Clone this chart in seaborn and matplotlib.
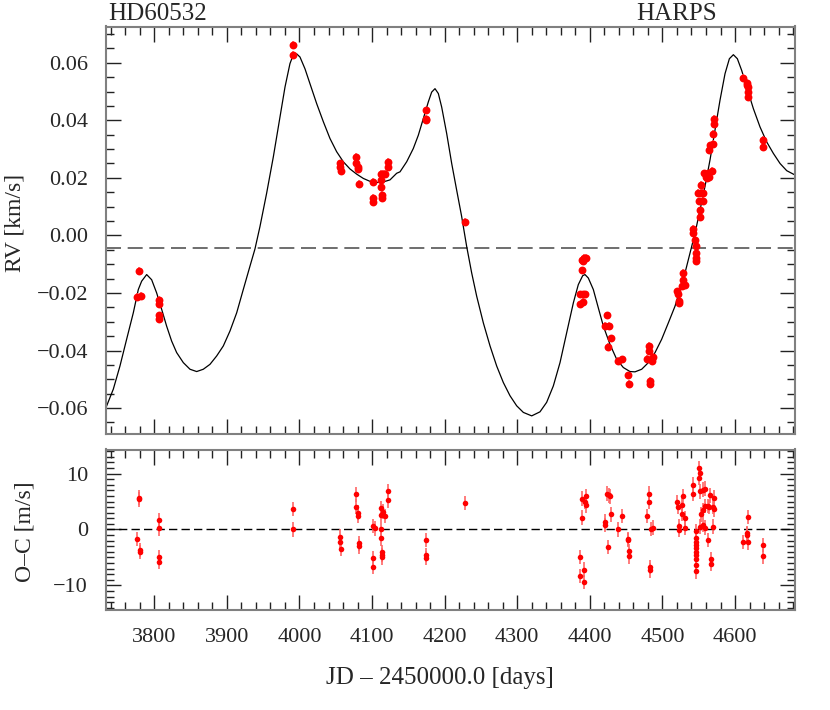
import numpy as np
import pandas as pd
import matplotlib
matplotlib.use('Agg')
import matplotlib.pyplot as plt
import seaborn as sns
from matplotlib.ticker import MultipleLocator

# ---- data ----
# Keplerian model curve (JD - 2450000, RV in km/s)
model_jd = [3733.5, 3743.6, 3752.7, 3761.9, 3771.1, 3778.0, 3782.6, 3789.5, 3796.4,
            3803.3, 3810.2, 3817.0, 3823.9, 3830.8, 3840.0, 3849.2, 3858.4, 3867.5,
            3876.7, 3885.9, 3895.1, 3904.3, 3913.5, 3922.6, 3931.8, 3938.7, 3945.6,
            3954.8, 3964.0, 3973.2, 3980.1, 3986.9, 3991.5, 3996.1, 4000.7, 4007.6,
            4014.5, 4023.7, 4032.9, 4042.0, 4051.2, 4060.4, 4069.6, 4078.8, 4088.0,
            4097.1, 4106.3, 4115.5, 4124.7, 4133.9, 4138.5, 4147.7, 4156.8, 4163.7,
            4170.6, 4177.5, 4182.1, 4186.7, 4191.3, 4195.9, 4202.8, 4209.7, 4216.5,
            4223.4, 4230.3, 4237.2, 4244.1, 4253.3, 4262.5, 4271.7, 4280.8, 4290.0,
            4299.2, 4308.4, 4319.9, 4331.3, 4340.5, 4349.7, 4358.9, 4368.1, 4377.3,
            4384.1, 4390.1, 4393.3, 4397.9, 4404.8, 4411.7, 4418.6, 4427.8, 4436.9,
            4446.1, 4455.3, 4462.2, 4471.4, 4480.6, 4489.8, 4498.9, 4508.1, 4517.3,
            4524.2, 4531.1, 4538.0, 4544.9, 4551.8, 4558.6, 4565.5, 4572.4, 4579.3,
            4586.2, 4592.2, 4597.7, 4603.2, 4609.2, 4616.0, 4625.2, 4634.4, 4643.6,
            4652.8, 4662.0, 4671.2, 4682.6]
model_rv = [-0.0598, -0.0534, -0.0454, -0.0361, -0.0269, -0.0188, -0.0159, -0.0136, -0.0154,
            -0.0200, -0.0257, -0.0315, -0.0367, -0.0407, -0.0442, -0.0465, -0.0473, -0.0465,
            -0.0448, -0.0419, -0.0384, -0.0332, -0.0269, -0.0188, -0.0107, -0.0047, 0.0031,
            0.0147, 0.0273, 0.0412, 0.0516, 0.0597, 0.0628, 0.0631, 0.0620, 0.0579,
            0.0527, 0.0458, 0.0395, 0.0337, 0.0291, 0.0256, 0.0231, 0.0213, 0.0198,
            0.0188, 0.0184, 0.0186, 0.0193, 0.0216, 0.0221, 0.0256, 0.0302, 0.0348,
            0.0406, 0.0464, 0.0498, 0.0510, 0.0493, 0.0446, 0.0354, 0.0250, 0.0158,
            0.0066, -0.0038, -0.0130, -0.0211, -0.0304, -0.0384, -0.0454, -0.0511, -0.0557,
            -0.0592, -0.0615, -0.0627, -0.0613, -0.0580, -0.0523, -0.0442, -0.0338, -0.0234,
            -0.0171, -0.0140, -0.0136, -0.0148, -0.0188, -0.0252, -0.0315, -0.0379, -0.0430,
            -0.0459, -0.0473, -0.0474, -0.0465, -0.0442, -0.0407, -0.0361, -0.0304, -0.0246,
            -0.0188, -0.0130, -0.0061, 0.0008, 0.0089, 0.0170, 0.0262, 0.0366, 0.0470,
            0.0562, 0.0614, 0.0628, 0.0614, 0.0573, 0.0516, 0.0441, 0.0377, 0.0325,
            0.0285, 0.0250, 0.0225, 0.0210]

# HARPS radial velocities (km/s)
rv_jd = [3779.4, 3776.6, 3781.2, 3806.9, 3806.9, 3806.0, 3806.5, 3990.6, 3990.6,
         4055.8, 4055.8, 4057.2, 4078.3, 4078.3, 4080.2, 4080.6, 4082.5, 4101.7,
         4100.8, 4100.8, 4112.3, 4115.5, 4117.8, 4112.3, 4112.3, 4113.2, 4113.7,
         4122.4, 4122.4, 4173.8, 4174.3, 4174.3, 4228.0,
         4388.7, 4391.9, 4394.7, 4391.0, 4389.6, 4386.4, 4390.1, 4393.3, 4386.4, 4391.0,
         4423.2, 4420.9, 4426.9, 4429.2, 4425.5, 4439.2, 4444.3, 4452.1, 4454.4,
         4481.0, 4481.0, 4479.2, 4486.5, 4485.2, 4483.3, 4483.3,
         4520.5, 4521.9, 4522.8, 4522.8, 4526.5, 4527.9, 4528.8, 4531.1,
         4541.7, 4542.6, 4544.9, 4545.8, 4545.8, 4546.3, 4546.3,
         4551.8, 4551.8, 4550.5, 4552.7, 4556.4, 4556.4, 4549.5, 4553.2,
         4557.8, 4560.1, 4562.4, 4564.7, 4567.9, 4561.0,
         4564.7, 4565.6, 4569.3, 4569.3, 4571.6, 4571.6,
         4610.5, 4617.0, 4618.3, 4616.0, 4618.3, 4618.3, 4639.0, 4639.0]
rv_val = [-0.0122, -0.0213, -0.0209, -0.0223, -0.0238, -0.0278, -0.0289, 0.0663, 0.0628,
          0.0250, 0.0239, 0.0225, 0.0274, 0.0250, 0.0239, 0.0231, 0.0178, 0.0187,
          0.0131, 0.0115, 0.0214, 0.0214, 0.0214, 0.0193, 0.0170, 0.0141, 0.0131,
          0.0256, 0.0239, 0.0435, 0.0406, 0.0400, 0.0048,
          -0.0084, -0.0078, -0.0078, -0.0090, -0.0121, -0.0205, -0.0205, -0.0205, -0.0240, -0.0232,
          -0.0278, -0.0313, -0.0313, -0.0358, -0.0388, -0.0437, -0.0431, -0.0486, -0.0515,
          -0.0383, -0.0400, -0.0429, -0.0423, -0.0437, -0.0506, -0.0515,
          -0.0194, -0.0205, -0.0229, -0.0235, -0.0177, -0.0131, -0.0154, -0.0171,
          0.0022, 0.0008, -0.0015, -0.0038, -0.0061, -0.0078, -0.0090,
          0.0064, 0.0087, 0.0118, 0.0147, 0.0147, 0.0121, 0.0147, 0.0175,
          0.0216, 0.0204, 0.0216, 0.0204, 0.0225, 0.0198,
          0.0296, 0.0313, 0.0317, 0.0354, 0.0386, 0.0406,
          0.0547, 0.0530, 0.0516, 0.0521, 0.0498, 0.0481, 0.0331, 0.0308]
rv_offset = -0.0045
rv_err = 0.0013

# residuals O-C (m/s)
oc_jd = [3779.4, 3779.4, 3776.6, 3780.3, 3780.7, 3806.9, 3806.9, 3806.0, 3806.0,
         3990.6, 3990.6, 4055.8, 4056.3, 4057.7, 4078.3, 4078.3, 4080.2, 4080.6,
         4082.5, 4082.5, 4101.7, 4103.5, 4101.7, 4101.7, 4112.3, 4115.5, 4117.8,
         4112.3, 4112.3, 4112.3, 4113.2, 4113.7, 4113.7, 4122.4, 4122.4,
         4174.3, 4174.3, 4174.3, 4228.0,
         4388.7, 4394.7, 4393.3, 4394.2, 4389.6, 4386.4, 4386.4, 4392.4, 4392.4,
         4423.2, 4426.4, 4427.8, 4421.3, 4421.3, 4425.5, 4429.2, 4439.2, 4444.3,
         4452.1, 4453.0, 4454.4, 4454.4,
         4481.5, 4481.5, 4479.2, 4483.8, 4487.5, 4482.9, 4483.3,
         4520.5, 4521.0, 4526.5, 4528.3, 4523.3, 4523.3, 4526.5, 4530.6, 4530.6,
         4542.6, 4542.6,
         4546.2, 4546.2, 4546.2, 4546.2, 4546.2, 4546.2, 4546.2, 4546.2, 4546.2, 4546.2,
         4549.9, 4551.8, 4550.9, 4551.8, 4552.7, 4551.8,
         4556.4, 4559.2, 4556.4, 4558.7, 4562.4, 4565.6, 4564.7, 4556.4, 4559.2,
         4563.3, 4567.0, 4567.0, 4569.3, 4571.1, 4571.1, 4569.3,
         4610.5, 4616.0, 4617.0, 4618.3, 4618.3, 4639.0, 4639.0]
oc_val = [5.7, 5.4, -1.7, -3.7, -4.0, 1.7, 0.2, -4.9, -5.8,
          3.7, 0.0, -1.3, -2.2, -3.5, 6.3, 4.1, 3.0, 2.4,
          -2.5, -3.0, 0.6, 0.2, -5.1, -6.7, 3.8, 3.2, 2.4,
          2.6, 0.0, -1.6, -4.0, -4.6, -5.0, 6.9, 5.2,
          -1.9, -4.6, -5.1, 4.75,
          5.5, 5.95, 4.9, 4.3, 2.1, -4.9, -8.3, -7.2, -9.4,
          6.4, 6.1, 5.9, 1.4, 0.8, -3.1, 2.7, 0.0, 2.4,
          -1.7, -1.9, -3.9, -4.8,
          6.4, 4.9, 2.4, 0.05, 0.35, -6.7, -7.3,
          4.9, 4.0, 4.3, 6.0, 0.6, -0.1, 2.85, 2.0, 0.35,
          8.0, 6.4,
          -0.24, -1.6, -2.2, -2.8, -3.4, -4.0, -4.6, -5.2, -6.4, -7.5,
          11.0, 10.1, 9.2, 6.8, 2.7, 0.5,
          7.1, 7.3, 3.4, 4.2, 4.2, 6.1, 4.0, 0.8, 0.35,
          -1.9, -5.3, -6.2, 4.0, 5.7, 3.6, 0.5,
          -2.2, -0.7, -0.9, -2.3, 2.25, -2.75, -4.8]
oc_err = 1.3

# ---- figure ----
sns.set_style("ticks")
plt.rcParams['font.family'] = ['Liberation Serif', 'DejaVu Serif']

W, H = 830, 710
fig = plt.figure(figsize=(W / 100, H / 100), dpi=100)
left, right = 106, 795
ax1 = fig.add_axes([left / W, 1 - 434 / H, (right - left) / W, (434 - 26.5) / H])
ax2 = fig.add_axes([left / W, 1 - 610 / H, (right - left) / W, (610 - 449.5) / H])

model_df = pd.DataFrame({'jd': model_jd, 'rv': model_rv})
rv_df = pd.DataFrame({'jd': rv_jd, 'rv': rv_val})
oc_df = pd.DataFrame({'jd': oc_jd, 'oc': oc_val})

# top panel: RV + model
ax1.axhline(rv_offset, color='#555555', lw=1.2, ls=(0, (9, 4)), zorder=1)
sns.lineplot(data=model_df, x='jd', y='rv', ax=ax1, color='black', lw=0.9,
             estimator=None, sort=False, zorder=2)
ax1.errorbar(rv_df['jd'], rv_df['rv'], yerr=rv_err, fmt='none',
             ecolor='#ff6666', elinewidth=1.2, zorder=3)
sns.scatterplot(data=rv_df, x='jd', y='rv', ax=ax1, color='red', s=32,
                linewidth=0, zorder=4)

# bottom panel: residuals
ax2.axhline(0, color='black', lw=1.0, ls=(0, (6, 3)), zorder=1)
ax2.errorbar(oc_df['jd'], oc_df['oc'], yerr=oc_err, fmt='none',
             ecolor='#ff6666', elinewidth=1.2, zorder=2)
sns.scatterplot(data=oc_df, x='jd', y='oc', ax=ax2, color='red', s=16,
                linewidth=0, zorder=3)

for ax in (ax1, ax2):
    ax.set_xlim(3733.5, 4682.6)
    ax.xaxis.set_major_locator(MultipleLocator(100))
    ax.xaxis.set_minor_locator(MultipleLocator(20))
    ax.tick_params(which='both', direction='in', top=True, right=True,
                   labelsize=16, pad=13, color='#222222')
    ax.tick_params(which='major', length=11, width=1.0)
    ax.tick_params(which='minor', length=6, width=1.0)
    for s in ax.spines.values():
        s.set_color('#808080')
        s.set_linewidth(1.5)
    ax.set_xlabel('')
    ax.set_ylabel('')

ax1.set_ylim(-0.069, 0.0726)
ax1.yaxis.set_major_locator(MultipleLocator(0.02))
ax1.yaxis.set_minor_locator(MultipleLocator(0.005))
ax1.tick_params(labelbottom=False)

ax2.set_ylim(-14.4, 14.3)
ax2.yaxis.set_major_locator(MultipleLocator(10))
ax2.yaxis.set_minor_locator(MultipleLocator(1))

# texts
fig.text(108 / W, 1 - 20 / H, 'HD60532', fontsize=18, ha='left', va='baseline')
fig.text(717 / W, 1 - 20 / H, 'HARPS', fontsize=18, ha='right', va='baseline')
fig.text(440 / W, 1 - 678 / H, 'JD – 2450000.0 [days]', fontsize=18,
         ha='center', va='center')
fig.text(15 / W, 1 - 223 / H, 'RV [km/s]', fontsize=17, rotation=90,
         ha='center', va='center')
fig.text(25 / W, 1 - 532 / H, 'O–C [m/s]', fontsize=17, rotation=90,
         ha='center', va='center')

fig.savefig('out.png', dpi=100)
